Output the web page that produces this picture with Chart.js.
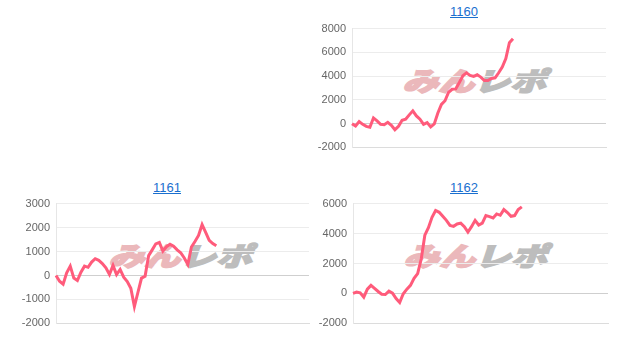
<!DOCTYPE html>
<html>
<head>
<meta charset="utf-8">
<script src="https://cdn.jsdelivr.net/npm/chart.js@4.4.0/dist/chart.umd.min.js"></script>
<style>
  body { margin: 0; width: 619px; height: 348px; background: #fff; position: relative; overflow: hidden; font-family: "Liberation Sans", Arial, sans-serif; }
  .title { position: absolute; font-size: 13px; color: #1a6fcf; text-decoration: underline; transform: translateX(-50%); }
  .box { position: absolute; }
  .mark { position: absolute; font-family: "Noto Sans CJK JP", sans-serif; font-weight: 900; font-size: 32px; line-height: 1; letter-spacing: 0px; transform: translate(-50%, -50%) scale(1.12, 0.82) skewX(-14deg); white-space: nowrap; }
  .mark .a { color: #ebb8bb; -webkit-text-stroke: 2px #ebb8bb; }
  .mark .b { color: #bdbdbd; -webkit-text-stroke: 2px #bdbdbd; }
</style>
</head>
<body>
<a class="title" style="left:464px; top:4px;">1160</a>
<a class="title" style="left:167px; top:180px;">1161</a>
<a class="title" style="left:464px; top:180px;">1162</a>

<div class="mark" style="left:478px; top:80px;"><span class="a">みん</span><span class="b">レポ</span></div>
<div class="mark" style="left:184px; top:255px;"><span class="a">みん</span><span class="b">レポ</span></div>
<div class="mark" style="left:479px; top:255px;"><span class="a">みん</span><span class="b">レポ</span></div>

<div class="box" style="left:311px; top:16px; width:298px; height:144px;"><canvas id="c1160"></canvas></div>
<div class="box" style="left:15px; top:191px; width:297px; height:145px;"><canvas id="c1161"></canvas></div>
<div class="box" style="left:312px; top:191px; width:299px; height:145px;"><canvas id="c1162"></canvas></div>

<script>
  // x positions (games), only part of the range is played
  const slots = Array.from({ length: 72 }, (_, i) => i + 1);

  const diff1160 = [
    0, -200, 170, -60, -230, -310, 480, 230, -60, -90,
    110, -140, -510, -230, 280, 370, 740, 1080, 650, 370,
    -60, 85, -280, -30, 900, 1620, 1930, 2640, 2890, 2920,
    3460, 4030, 4280, 4060, 3970, 4110, 3920, 3630, 3630, 3800,
    3860, 4280, 4770, 5480, 6810, 7150,
  ];
  const diff1161 = [
    0, -240, -360, 110, 390, -110, -210, 140, 390, 340,
    560, 700, 630, 500, 320, 40, 420, 40, 250, -70,
    -250, -530, -1300, -700, -110, -30, 830, 1070, 1320, 1380,
    1020, 1200, 1300, 1220, 1070, 950, 730, 460, 1190, 1420,
    1670, 2120, 1800, 1470, 1330, 1240,
  ];
  const diff1162 = [
    0, 90, 40, -250, 290, 540, 340, 130, -50, -70,
    160, 20, -340, -600, -20, 290, 540, 1010, 1330, 2300,
    3890, 4390, 5090, 5540, 5420, 5150, 4880, 4540, 4480, 4640,
    4700, 4460, 4100, 4460, 4880, 4570, 4700, 5200, 5130, 5040,
    5310, 5220, 5600, 5400, 5150, 5200, 5600, 5780,
  ];

  const ticks1160 = { min: -2000, max: 8000, step: 2000 };
  const ticks1161 = { min: -2000, max: 3000, step: 1000 };
  const ticks1162 = { min: -2000, max: 6000, step: 2000 };

  Chart.defaults.font.family = "'Liberation Sans', Arial, sans-serif";

  function makeChart(id, data, t) {
    return new Chart(document.getElementById(id), {
      type: "line",
      data: {
        labels: slots,
        datasets: [
          {
            data: data,
            borderColor: "#ff5b7b",
            borderWidth: 3,
            pointRadius: 0,
            fill: false,
            tension: 0,
          },
        ],
      },
      options: {
        responsive: true,
        maintainAspectRatio: false,
        animation: false,
        layout: { padding: { top: 0, right: 3, bottom: 0, left: 0 } },
        plugins: { legend: { display: false }, tooltip: { enabled: false } },
        scales: {
          x: {
            ticks: { display: false },
            grid: { display: false },
            border: { display: true, color: "#dcdcdc" },
          },
          y: {
            min: t.min,
            max: t.max,
            afterFit: function (s) {
              s.width = 41;
            },
            ticks: {
              stepSize: t.step,
              color: "#666",
              font: { size: 11 },
              padding: 6,
              callback: function (v) {
                return String(v);
              },
            },
            grid: {
              drawTicks: false,
              color: function (ctx) {
                return ctx.tick && ctx.tick.value === 0 ? "#cfcfcf" : "#ececec";
              },
            },
            border: { display: true, color: "#e6e6e6" },
          },
        },
      },
    });
  }

  makeChart("c1160", diff1160, ticks1160);
  makeChart("c1161", diff1161, ticks1161);
  makeChart("c1162", diff1162, ticks1162);
</script>
</body>
</html>
